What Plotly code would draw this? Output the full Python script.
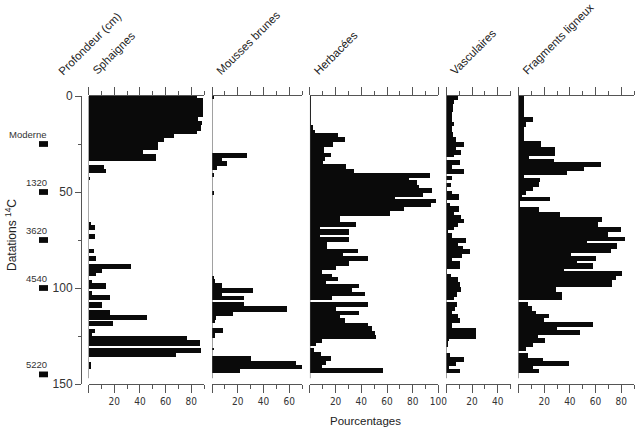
import plotly.graph_objects as go

# depth edges (cm) and percentages for each run of samples
sph_edges = [0, 1, 11, 13, 15, 18, 20, 22, 24, 28, 30, 34, 36, 38, 40, 42.5, 43.5, 65.5, 67, 70,
             72, 74.5, 79.5, 82, 83.5, 86, 87.5, 90, 92, 94, 96, 97.5, 100.5, 101.5, 103.5, 106.5,
             107.5, 110.5, 111.5, 114, 116.5, 117, 120, 121.5, 123.5, 125, 127, 130, 131.5, 134,
             136, 138.5, 142]
sph_pct = [84, 89, 85, 88, 87, 84, 66, 58, 54, 42, 52, 0, 11.5, 13.5, 0, 0.6, 0, 1.5, 4.5, 0,
           4.5, 0, 4, 0, 5.5, 0, 32.5, 10, 5.5, 0, 2.5, 13.5, 0, 2.5, 16, 0, 10.5, 0, 16, 45,
           0, 19, 0, 4.5, 2, 76, 86, 0, 87.5, 68, 0, 0.8]

mou_edges = [0, 1.5, 29.5, 32.5, 34, 36.5, 38.5, 40, 42, 49.5, 51.5, 93.5, 95.5, 97.5, 100, 102.5,
             104, 106.5, 107.5, 109.5, 112.5, 114.5, 116.5, 118, 121, 123.5, 126, 131, 132.5,
             135.5, 138, 140, 142, 144.5]
mou_pct = [1, 0, 27, 7.5, 11.5, 4, 0, 1.3, 0, 1.3, 0, 1.5, 2.5, 7.5, 32, 7.5, 25, 0, 25, 58,
           16.5, 3, 2, 0, 8.8, 2.5, 0, 1.3, 0, 30, 65.5, 70, 22]

her_edges = [0, 15, 17.5, 19.5, 21.5, 24, 26.5, 29.5, 32, 34, 35.5, 38, 40, 42.5, 44, 46.5, 48,
             50.5, 52.5, 53.5, 55.5, 58, 60, 62.5, 65.5, 68, 69.5, 72.5, 73.5, 76, 79.5, 82, 83.5,
             86, 88.5, 90.5, 92.5, 94.5, 96.5, 98, 100, 102, 104, 106.5, 107.3, 110, 112, 114,
             115.5, 118, 120, 122.5, 124.5, 126.5, 128.5, 130, 131.3, 133.5, 135.5, 138, 140,
             141.5, 144.5]
her_pct = [0.5, 2, 4, 22, 27, 18, 11, 16, 12, 10, 28, 34, 93, 77, 83, 85, 95, 88, 66, 98,
           94, 73, 62, 23, 36, 8, 30, 8, 30, 13.5, 37, 26, 45, 30, 20, 9, 17.5, 21.5, 12.5, 38,
           33, 43, 17.5, 0, 45, 20, 38.5, 23, 27, 45, 48, 50.5, 51, 9, 4.5, 0, 3, 8.5, 16.5,
           12.5, 9.3, 57]

vas_edges = [0, 2, 4, 8.5, 13.5, 15.5, 19, 21.5, 24, 26.5, 28, 30.5, 32, 33.3, 36, 37.8, 40.5,
             41.5, 43.5, 45.3, 47.5, 49.3, 51, 54, 55.5, 57.5, 60.5, 62, 64, 66.3, 68, 69.8, 71.5,
             74, 76.3, 78, 79.7, 82.3, 84.5, 86, 90.2, 92.7, 94.5, 97, 99.7, 102, 104.5, 106.3,
             107.5, 110, 111.8, 113.6, 115.7, 118.4, 121, 126.3, 127.5, 130.6, 133.6, 135.8,
             138.5, 140.5, 142, 144.5]
vas_pct = [9.5, 6, 5.2, 4.7, 6, 4.7, 5.2, 7.8, 14, 7.8, 11.5, 6.5, 0, 11, 5, 14, 0, 5, 0, 4,
           0.5, 5, 10, 0.5, 3, 10, 6.5, 11.5, 14.3, 9, 6.5, 0.8, 4.7, 15.5, 9, 13.5, 19, 12.5,
           5, 11, 0.6, 3.5, 9, 11.2, 12, 8.3, 6, 0, 8.7, 7, 4.4, 9.6, 11.2, 4.4, 23.5, 2.5, 1,
           0, 3.4, 13.8, 7.8, 2, 11]

fra_edges = [0, 11, 13.5, 16, 23.3, 26.3, 31, 32.8, 34.5, 37, 38.8, 41, 42.7, 45, 47.5, 49.6,
             51.3, 52.4, 54.8, 57.9, 60.5, 63.2, 65.8, 68.4, 71, 73.2, 75.7, 76.5, 79.7, 82,
             83.2, 86.1, 87.1, 90.1, 91.3, 93.6, 95.8, 99.7, 102.3, 106.5, 107.5, 109.6, 111.8,
             113.6, 115.7, 117.9, 120.2, 121.9, 124.4, 126.1, 128.4, 130.6, 132.7, 133.6, 136.2,
             137.9, 140.5, 142.3, 144.5]
fra_pct = [5, 11.5, 6.5, 5, 18, 28.8, 8.6, 28, 64.7, 51, 38, 5, 17.4, 16, 11.6, 6, 3, 25, 1.5,
           16, 33, 65, 62.5, 80.3, 70, 83, 54, 77, 72.5, 41, 61, 46, 58, 36, 81, 76.4, 73, 29.6,
           34, 0, 8, 10.7, 14, 24.5, 20, 58.2, 30.4, 48.6, 15.4, 21, 11.5, 6.2, 0, 8.1, 19.2,
           40, 11.5, 16.7]

panel_names = ["Sphaignes", "Mousses brunes", "Herbacées", "Vasculaires", "Fragments ligneux"]
panel_max = [90, 70, 100, 50, 90]

date_labels = ["Moderne", "1320", "3620", "4540", "5220"]
date_depths = [25, 50, 75, 100, 145]

panels = [(sph_edges, sph_pct), (mou_edges, mou_pct), (her_edges, her_pct),
          (vas_edges, vas_pct), (fra_edges, fra_pct)]

# page geometry (pixels)
W, H = 639, 427
ML, MR, MT, MB = 81, 3, 96, 43
PW = W - ML - MR
PH = H - MT - MB
px_per_pct = 1.285
gap = 7.9
first_left = 88.5

narrow = "Liberation Sans Narrow, Arial Narrow, DejaVu Sans Condensed, sans-serif"
sans = "Liberation Sans, Arial, sans-serif"


def px_x(px):
    return (px - ML) / PW


def px_y(py):
    return 1 - (py - MT) / PH


fig = go.Figure()
layout = {}
shapes = []
annotations = []

left = first_left
for i, (edges, pct) in enumerate(panels):
    n = i + 1
    ax = "x" if n == 1 else "x%d" % n
    mids = [(edges[k] + edges[k + 1]) / 2 for k in range(len(pct))]
    widths = [edges[k + 1] - edges[k] for k in range(len(pct))]
    fig.add_trace(go.Bar(y=mids, x=pct, width=widths, orientation="h",
                         marker=dict(color="#0a0a0a", line=dict(width=0)),
                         xaxis=ax, yaxis="y", showlegend=False, hoverinfo="skip"))

    right = left + panel_max[i] * px_per_pct
    major = list(range(0, panel_max[i] + 1, 20))
    minor = list(range(10, panel_max[i] + 1, 20))
    layout["xaxis" if n == 1 else "xaxis%d" % n] = dict(
        domain=[px_x(left), min(px_x(right), 1)], range=[0, panel_max[i]],
        anchor="y", showline=True, linecolor="#555", linewidth=1, mirror="ticks",
        ticks="outside", ticklen=8, tickcolor="#555",
        tickmode="array", tickvals=major, ticktext=[" " if v == 0 else str(v) for v in major],
        minor=dict(tickmode="array", tickvals=minor, ticks="outside", ticklen=4, tickcolor="#555"),
        showgrid=False, zeroline=False, automargin=False,
        tickfont=dict(family=narrow, size=10, color="#333"))

    # left edge of each panel
    shapes.append(dict(type="line", xref=ax, yref="y", x0=0, x1=0, y0=0, y1=147,
                       line=dict(color="#555", width=1)))

    # slanted panel title
    annotations.append(dict(text=panel_names[i], xref="paper", yref="paper",
                            x=px_x(left - 1), y=px_y(80), xanchor="left", yanchor="bottom",
                            textangle=-45, showarrow=False,
                            font=dict(family=sans, size=11.5, color="#222")))
    left = right + gap

layout["yaxis"] = dict(range=[150, 0], domain=[0, 1], anchor="free", position=0,
                       showline=True, linecolor="#555", linewidth=1,
                       ticks="outside", ticklen=6, tickcolor="#555",
                       tickmode="array", tickvals=[0, 50, 100, 150],
                       minor=dict(tickmode="array", tickvals=[25, 75, 125], ticks="outside",
                                  ticklen=3, tickcolor="#555"),
                       showgrid=False, zeroline=False, automargin=False,
                       tickfont=dict(family=sans, size=12, color="#333"))

# radiocarbon dates
for lab, d in zip(date_labels, date_depths):
    shapes.append(dict(type="rect", xref="paper", yref="y", x0=px_x(39), x1=px_x(48),
                       y0=d - 1.5, y1=d + 1.5, fillcolor="#0a0a0a", line=dict(width=0)))
    annotations.append(dict(text=lab, xref="paper", yref="y", x=px_x(49), y=d,
                            yshift=10, xanchor="right", yanchor="middle", showarrow=False,
                            font=dict(family=sans, size=9.5, color="#333")))

annotations.append(dict(text="Profondeur (cm)", xref="paper", yref="paper",
                        x=px_x(53), y=px_y(80), xanchor="left", yanchor="bottom",
                        textangle=-45, showarrow=False,
                        font=dict(family=sans, size=11.5, color="#222")))
annotations.append(dict(text="Datations <sup>14</sup>C", xref="paper", yref="paper",
                        x=px_x(11), y=px_y(235), xanchor="center", yanchor="middle",
                        textangle=-90, showarrow=False,
                        font=dict(family=sans, size=12, color="#222")))
annotations.append(dict(text="Pourcentages", xref="paper", yref="paper",
                        x=px_x(365), y=px_y(421), xanchor="center", yanchor="middle",
                        showarrow=False, font=dict(family=sans, size=11.5, color="#222")))

fig.update_layout(width=W, height=H, autosize=False, margin=dict(l=ML, r=MR, t=MT, b=MB),
                  plot_bgcolor="white", paper_bgcolor="white", hovermode=False,
                  bargap=0, shapes=shapes, annotations=annotations, **layout)

# page margin off so the figure sits at the window's corner, then redraw at full size
post = ("document.body.style.margin='0';document.body.style.overflow='hidden';"
        "Plotly.relayout(document.getElementById('{plot_id}'), {width: %d, height: %d});" % (W, H))
fig.write_html("out.html", config={"displayModeBar": False, "responsive": False},
               post_script=post)
